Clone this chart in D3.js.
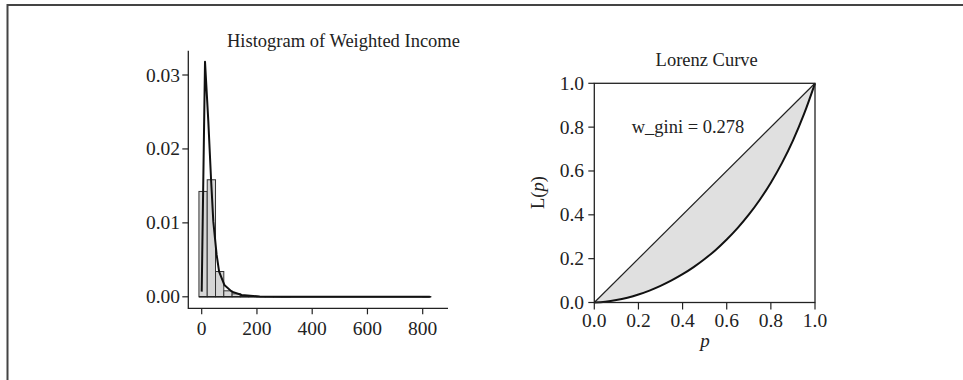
<!DOCTYPE html>
<meta charset="utf-8">
<head>
<script src="https://d3js.org/d3.v7.min.js"></script>
<style>
  body { margin: 0; background: #fff; }
  text { font-family: "Liberation Serif", "Times New Roman", serif; fill: #222; }
</style>
</head>
<body>
<div id="my_dataviz"></div>
<script>

// histogram bins (width 30, first edge -10) and densities
var binStart = -10, binWidth = 30;
var binDensity = [0.01425, 0.01583, 0.00342, 0.00081, 0.0004, 0.00015, 0.00006, 0.00003,
                  0.00002, 0.00001, 0.00001, 0, 0, 0, 0, 0, 0, 0, 0, 0, 0, 0, 0, 0, 0, 0, 0, 0.00001];

// kernel density line
var densX = [0, 12, 24, 34, 42, 54, 63, 82, 109, 145, 210, 300, 826];
var densY = [0.0007, 0.0318, 0.0237, 0.0158, 0.0102, 0.0057, 0.0034, 0.0016, 0.0007, 0.00024, 0.00003, 0, 0];

var histXTicks = [0, 200, 400, 600, 800];
var histYTicks = [0, 0.01, 0.02, 0.03];

// lorenz curve
var lorenzP = [0, 0.05, 0.1, 0.15, 0.2, 0.25, 0.3, 0.35, 0.4, 0.45, 0.5, 0.55, 0.6, 0.65, 0.7, 0.75, 0.8, 0.85, 0.9, 0.95, 1.0];
var lorenzL = [0, 0.0035, 0.011, 0.022, 0.0364, 0.0544, 0.0758, 0.1006, 0.129, 0.1614, 0.1984,
               0.24, 0.2875, 0.3407, 0.4008, 0.469, 0.5466, 0.6357, 0.7386, 0.859, 1.0];
var lorenzTicks = [0, 0.2, 0.4, 0.6, 0.8, 1.0];
var giniLabel = "w_gini = 0.278";

var W = 963, H = 380;
var svg = d3.select("#my_dataviz").append("svg")
    .attr("width", W).attr("height", H);

// outer frame (top + left)
svg.append("path")
    .attr("d", "M7.5,380 V5 H963")
    .attr("fill", "none").attr("stroke", "#444").attr("stroke-width", 2);

// ---------- histogram ----------
var hx = d3.scaleLinear().domain([0, 800]).range([201.7, 422.7]);
var hy = d3.scaleLinear().domain([0, 0.03]).range([296.8, 75]);
var hLeft = 188.3, hBottom = 308.3, hTop = 50.7, hRight = 448;

var hg = svg.append("g");

hg.selectAll("rect.bar")
  .data(binDensity)
  .enter().append("rect")
    .attr("class", "bar")
    .attr("x", function(d, i) { return hx(binStart + i * binWidth); })
    .attr("width", function(d, i) { return hx(binStart + (i + 1) * binWidth) - hx(binStart + i * binWidth); })
    .attr("y", function(d) { return hy(d); })
    .attr("height", function(d) { return hy(0) - hy(d); })
    .attr("fill", "#d6d6d6")
    .attr("stroke", "#333")
    .attr("stroke-width", 1);

// baseline of bars
hg.append("line")
    .attr("x1", hx(binStart)).attr("x2", hx(binStart + binDensity.length * binWidth))
    .attr("y1", hy(0)).attr("y2", hy(0))
    .attr("stroke", "#222").attr("stroke-width", 1.5);

var densLine = d3.line()
    .x(function(d, i) { return hx(densX[i]); })
    .y(function(d) { return hy(d); });
hg.append("path")
    .datum(densY)
    .attr("d", densLine)
    .attr("fill", "none")
    .attr("stroke", "#111")
    .attr("stroke-width", 2)
    .attr("stroke-linejoin", "round");

// L shaped axes
hg.append("path")
    .attr("d", "M" + hLeft + "," + hTop + " V" + hBottom + " H" + hRight)
    .attr("fill", "none").attr("stroke", "#222").attr("stroke-width", 1.3);

hg.selectAll("line.xt").data(histXTicks).enter().append("line")
    .attr("x1", function(d) { return hx(d); }).attr("x2", function(d) { return hx(d); })
    .attr("y1", hBottom).attr("y2", hBottom + 6)
    .attr("stroke", "#222").attr("stroke-width", 1.2);
hg.selectAll("text.xt").data(histXTicks).enter().append("text")
    .attr("x", function(d) { return hx(d); })
    .attr("y", 335)
    .attr("text-anchor", "middle")
    .style("font-size", "19.5px")
    .text(function(d) { return d; });

hg.selectAll("line.yt").data(histYTicks).enter().append("line")
    .attr("x1", hLeft - 6).attr("x2", hLeft)
    .attr("y1", function(d) { return hy(d); }).attr("y2", function(d) { return hy(d); })
    .attr("stroke", "#222").attr("stroke-width", 1.2);
hg.selectAll("text.yt").data(histYTicks).enter().append("text")
    .attr("x", 180)
    .attr("y", function(d) { return hy(d) + 6.5; })
    .attr("text-anchor", "end")
    .style("font-size", "19.5px")
    .text(function(d) { return d3.format(".2f")(d); });

hg.append("text")
    .attr("x", 227)
    .attr("y", 47)
    .style("font-size", "18.5px")
    .text("Histogram of Weighted Income");

// ---------- lorenz curve ----------
var lx = d3.scaleLinear().domain([0, 1]).range([594.3, 815]);
var ly = d3.scaleLinear().domain([0, 1]).range([302.5, 83.3]);
var lg = svg.append("g");

var area = d3.area()
    .x(function(d, i) { return lx(lorenzP[i]); })
    .y0(function(d, i) { return ly(lorenzP[i]); })
    .y1(function(d) { return ly(d); })
    .curve(d3.curveMonotoneX);
lg.append("path").datum(lorenzL).attr("d", area).attr("fill", "#e0e0e0");

lg.append("line")
    .attr("x1", lx(0)).attr("y1", ly(0)).attr("x2", lx(1)).attr("y2", ly(1))
    .attr("stroke", "#222").attr("stroke-width", 1.2);

var lline = d3.line()
    .x(function(d, i) { return lx(lorenzP[i]); })
    .y(function(d) { return ly(d); })
    .curve(d3.curveMonotoneX);
lg.append("path").datum(lorenzL).attr("d", lline)
    .attr("fill", "none").attr("stroke", "#111").attr("stroke-width", 2);

lg.append("rect")
    .attr("x", lx(0)).attr("y", ly(1))
    .attr("width", lx(1) - lx(0)).attr("height", ly(0) - ly(1))
    .attr("fill", "none").attr("stroke", "#222").attr("stroke-width", 1.3);

lg.selectAll("line.xt").data(lorenzTicks).enter().append("line")
    .attr("x1", function(d) { return lx(d); }).attr("x2", function(d) { return lx(d); })
    .attr("y1", ly(0)).attr("y2", ly(0) + 7)
    .attr("stroke", "#222").attr("stroke-width", 1.2);
lg.selectAll("text.xt").data(lorenzTicks).enter().append("text")
    .attr("x", function(d) { return lx(d); })
    .attr("y", 327)
    .attr("text-anchor", "middle")
    .style("font-size", "19.5px")
    .text(function(d) { return d3.format(".1f")(d); });

lg.selectAll("line.yt").data(lorenzTicks).enter().append("line")
    .attr("x1", lx(0) - 6).attr("x2", lx(0))
    .attr("y1", function(d) { return ly(d); }).attr("y2", function(d) { return ly(d); })
    .attr("stroke", "#222").attr("stroke-width", 1.2);
lg.selectAll("text.yt").data(lorenzTicks).enter().append("text")
    .attr("x", 584)
    .attr("y", function(d) { return ly(d) + 6.5; })
    .attr("text-anchor", "end")
    .style("font-size", "19.5px")
    .text(function(d) { return d3.format(".1f")(d); });

lg.append("text")
    .attr("x", 706.7).attr("y", 66)
    .attr("text-anchor", "middle")
    .style("font-size", "18.5px")
    .text("Lorenz Curve");

lg.append("text")
    .attr("x", 688).attr("y", 133)
    .attr("text-anchor", "middle")
    .style("font-size", "18.5px")
    .text(giniLabel);

lg.append("text")
    .attr("x", 705).attr("y", 347)
    .attr("text-anchor", "middle")
    .style("font-size", "19px")
    .style("font-style", "italic")
    .text("p");

var yl = lg.append("text")
    .attr("transform", "translate(544,192.5) rotate(-90)")
    .attr("text-anchor", "middle")
    .style("font-size", "18.5px");
yl.append("tspan").text("L(");
yl.append("tspan").style("font-style", "italic").text("p");
yl.append("tspan").text(")");

</script>
</body>
